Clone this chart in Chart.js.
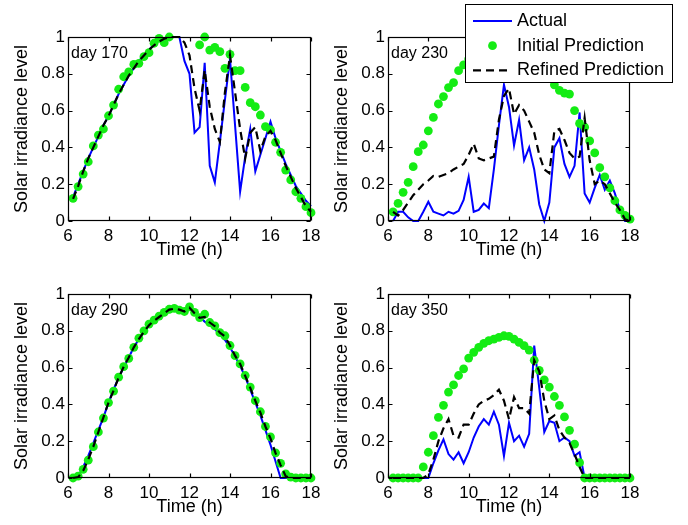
<!DOCTYPE html>
<html>
<head>
<meta charset="utf-8">
<title>Solar irradiance: actual vs predicted</title>
<script src="https://cdn.jsdelivr.net/npm/chart.js@4.4.1/dist/chart.umd.min.js"></script>
<style>
  html, body { margin: 0; padding: 0; background: #ffffff; }
  #fig { position: relative; width: 688px; height: 525px; overflow: hidden; background: #ffffff; }
  #fig canvas { position: absolute; }
</style>
</head>
<body>
<div id="fig">
  <canvas id="p170" width="344" height="262" style="left:0px;top:0px;"></canvas>
  <canvas id="p290" width="344" height="262" style="left:0px;top:257px;"></canvas>
  <canvas id="p350" width="368" height="262" style="left:320px;top:257px;"></canvas>
  <canvas id="p230" width="368" height="262" style="left:320px;top:0px;"></canvas>
</div>
<script>
// ---------------- data ----------------
const hours = [
  6.25, 6.5, 6.75, 7, 7.25, 7.5, 7.75, 8, 8.25, 8.5, 8.75, 9,
  9.25, 9.5, 9.75, 10, 10.25, 10.5, 10.75, 11, 11.25, 11.5, 11.75, 12,
  12.25, 12.5, 12.75, 13, 13.25, 13.5, 13.75, 14, 14.25, 14.5, 14.75, 15,
  15.25, 15.5, 15.75, 16, 16.25, 16.5, 16.75, 17, 17.25, 17.5, 17.75, 18
];
const xTickValues = [6, 8, 10, 12, 14, 16, 18];
const xTickLabels = ['6', '8', '10', '12', '14', '16', '18'];
const yTickValues = [0, 0.2, 0.4, 0.6, 0.8, 1];
const yTickLabels = ['0', '0.2', '0.4', '0.6', '0.8', '1'];
const seriesLabels = ['Actual', 'Initial Prediction', 'Refined Prediction'];
const xTitle = 'Time (h)';
const yTitle = 'Solar irradiance level';
const dayLabels = ['day 170', 'day 230', 'day 290', 'day 350'];

// day 170
const actual170 = [
  0.13, 0.20, 0.27, 0.34, 0.40, 0.46, 0.52, 0.57, 0.63, 0.69, 0.74, 0.79,
  0.83, 0.87, 0.90, 0.93, 0.96, 0.98, 0.99, 1.00, 1.00, 1.00, 0.87, 0.80,
  0.48, 0.51, 0.86, 0.30, 0.21, 0.43, 0.66, 0.88, 0.52, 0.16, 0.35, 0.50,
  0.27, 0.36, 0.45, 0.54, 0.45, 0.38, 0.31, 0.25, 0.19, 0.15, 0.11, 0.08
];
const initial170 = [
  0.123, 0.187, 0.255, 0.322, 0.408, 0.467, 0.50, 0.572, 0.63, 0.716, 0.784, 0.81,
  0.851, 0.857, 0.893, 0.915, 0.966, 0.993, 0.969, 1.00, 1.05, 1.08, 1.09, 1.08,
  1.05, 0.957, 1.00, 0.929, 0.944, 0.92, 0.83, 0.906, 0.817, 0.817, 0.726, 0.643,
  0.621, 0.576, 0.513, 0.495, 0.428, 0.373, 0.277, 0.223, 0.159, 0.123, 0.078, 0.045
];
const refined170 = [
  0.12, 0.19, 0.27, 0.34, 0.40, 0.46, 0.52, 0.57, 0.63, 0.69, 0.74, 0.79,
  0.83, 0.87, 0.90, 0.93, 0.955, 0.975, 0.99, 1.00, 1.00, 1.00, 0.97, 0.90,
  0.72, 0.60, 0.82, 0.62, 0.50, 0.43, 0.70, 0.90, 0.70, 0.50, 0.34, 0.48,
  0.51, 0.38, 0.46, 0.49, 0.44, 0.37, 0.30, 0.24, 0.18, 0.13, 0.08, 0.05
];

// day 230
const actual230 = [
  0.00, 0.05, 0.05, 0.02, 0.00, 0.00, 0.05, 0.105, 0.05, 0.04, 0.03, 0.05,
  0.04, 0.055, 0.115, 0.24, 0.05, 0.06, 0.095, 0.07, 0.28, 0.52, 0.74, 0.62,
  0.41, 0.55, 0.33, 0.40, 0.28, 0.09, 0.00, 0.10, 0.40, 0.45, 0.31, 0.24,
  0.30, 0.59, 0.15, 0.10, 0.18, 0.25, 0.17, 0.22, 0.15, 0.06, 0.00, 0.00
];
const initial230 = [
  0.05, 0.096, 0.156, 0.21, 0.295, 0.377, 0.413, 0.49, 0.563, 0.636, 0.676, 0.725,
  0.752, 0.817, 0.848, 0.88, 0.90, 0.92, 0.93, 0.94, 0.95, 0.95, 0.95, 0.94,
  0.93, 0.91, 0.89, 0.86, 0.84, 0.82, 0.81, 0.78, 0.74, 0.71, 0.695, 0.69,
  0.60, 0.53, 0.51, 0.435, 0.37, 0.29, 0.24, 0.18, 0.11, 0.06, 0.03, 0.01
];
const refined230 = [
  0.05, 0.03, 0.06, 0.10, 0.14, 0.17, 0.20, 0.22, 0.245, 0.24, 0.25, 0.26,
  0.28, 0.295, 0.31, 0.36, 0.42, 0.34, 0.33, 0.34, 0.35, 0.55, 0.68, 0.72,
  0.58, 0.63, 0.60, 0.54, 0.48, 0.36, 0.28, 0.26, 0.49, 0.50, 0.44, 0.37,
  0.34, 0.35, 0.56, 0.33, 0.20, 0.22, 0.20, 0.15, 0.10, 0.06, 0.01, 0.00
];

// day 290
const actual290 = [
  0.00, 0.01, 0.06, 0.12, 0.19, 0.26, 0.33, 0.41, 0.48, 0.545, 0.60, 0.655,
  0.71, 0.755, 0.795, 0.83, 0.855, 0.875, 0.895, 0.91, 0.915, 0.915, 0.91, 0.92,
  0.90, 0.875, 0.85, 0.83, 0.81, 0.78, 0.75, 0.71, 0.66, 0.61, 0.55, 0.48,
  0.41, 0.34, 0.26, 0.18, 0.09, 0.00, 0.00, 0.00, 0.00, 0.00, 0.00, 0.00
];
const initial290 = [
  0.00, 0.01, 0.047, 0.097, 0.17, 0.25, 0.326, 0.41, 0.472, 0.548, 0.605, 0.65,
  0.71, 0.76, 0.80, 0.836, 0.858, 0.88, 0.90, 0.917, 0.922, 0.912, 0.905, 0.93,
  0.90, 0.872, 0.89, 0.845, 0.827, 0.79, 0.773, 0.72, 0.665, 0.62, 0.557, 0.494,
  0.42, 0.36, 0.28, 0.223, 0.137, 0.08, 0.022, 0.005, 0.00, 0.00, 0.00, 0.00
];
const refined290 = [
  0.00, 0.005, 0.04, 0.10, 0.17, 0.25, 0.33, 0.41, 0.475, 0.545, 0.605, 0.655,
  0.71, 0.755, 0.795, 0.83, 0.855, 0.875, 0.895, 0.915, 0.92, 0.915, 0.905, 0.925,
  0.895, 0.87, 0.875, 0.845, 0.825, 0.79, 0.77, 0.72, 0.665, 0.62, 0.555, 0.49,
  0.42, 0.355, 0.28, 0.215, 0.135, 0.07, 0.01, 0.00, 0.00, 0.00, 0.00, 0.00
];

// day 350
const actual350 = [
  0.00, 0.00, 0.00, 0.00, 0.00, 0.00, 0.00, 0.00, 0.08, 0.15, 0.21, 0.13,
  0.10, 0.14, 0.08, 0.14, 0.22, 0.28, 0.32, 0.29, 0.36, 0.29, 0.12, 0.30,
  0.20, 0.23, 0.17, 0.24, 0.72, 0.49, 0.25, 0.31, 0.30, 0.20, 0.22, 0.20,
  0.12, 0.14, 0.00, 0.00, 0.00, 0.00, 0.00, 0.00, 0.00, 0.00, 0.00, 0.00
];
const initial350 = [
  0.00, 0.00, 0.00, 0.00, 0.00, 0.00, 0.06, 0.14, 0.23, 0.33, 0.395, 0.467,
  0.506, 0.557, 0.593, 0.652, 0.683, 0.71, 0.732, 0.746, 0.755, 0.764, 0.773, 0.77,
  0.755, 0.737, 0.719, 0.695, 0.64, 0.585, 0.533, 0.494, 0.443, 0.395, 0.332, 0.259,
  0.184, 0.083, 0.00, 0.00, 0.00, 0.00, 0.00, 0.00, 0.00, 0.00, 0.00, 0.00
];
const refined350 = [
  0.00, 0.00, 0.00, 0.00, 0.00, 0.00, 0.00, 0.02, 0.10, 0.20, 0.27, 0.32,
  0.23, 0.22, 0.29, 0.29, 0.35, 0.40, 0.42, 0.43, 0.45, 0.48, 0.42, 0.32,
  0.44, 0.38, 0.38, 0.35, 0.64, 0.58, 0.42, 0.32, 0.34, 0.26, 0.22, 0.19,
  0.13, 0.06, 0.00, 0.00, 0.00, 0.00, 0.00, 0.00, 0.00, 0.00, 0.00, 0.00
];

// ---------------- drawing ----------------
const FONT = "'Liberation Sans', Arial, Helvetica, sans-serif";
Chart.defaults.font.family = FONT;
Chart.defaults.color = '#000000';

function pairs(values) {
  return hours.map((h, i) => ({ x: h, y: values[i] }));
}

function drawLegend(chart, lg) {
  const ctx = chart.ctx;
  ctx.save();
  ctx.fillStyle = '#ffffff';
  ctx.fillRect(lg.x, lg.y, lg.w, lg.h);
  ctx.strokeStyle = '#000000';
  ctx.lineWidth = 1;
  ctx.strokeRect(lg.x + 0.5, lg.y + 0.5, lg.w - 1, lg.h - 1);
  ctx.font = lg.fontSize + 'px ' + FONT;
  ctx.textBaseline = 'middle';
  ctx.textAlign = 'left';
  chart.data.datasets.forEach((ds, i) => {
    const yy = lg.y + lg.firstRow + i * lg.rowGap;
    const x0 = lg.x + lg.sampleStart, x1 = lg.x + lg.sampleEnd;
    if (ds.showLine === false) {
      ctx.beginPath();
      ctx.fillStyle = ds.pointBackgroundColor;
      ctx.arc((x0 + x1) / 2, yy, ds.pointRadius, 0, Math.PI * 2);
      ctx.fill();
    } else {
      ctx.beginPath();
      ctx.strokeStyle = ds.borderColor;
      ctx.lineWidth = ds.borderWidth;
      ctx.setLineDash(ds.borderDash || []);
      ctx.moveTo(x0, yy);
      ctx.lineTo(x1, yy);
      ctx.stroke();
      ctx.setLineDash([]);
    }
    ctx.fillStyle = '#000000';
    ctx.fillText(ds.label, lg.x + lg.textStart, yy);
  });
  ctx.restore();
}

const framePlugin = {
  id: 'matlabFrame',
  afterDraw(chart, args, opts) {
    const ctx = chart.ctx;
    const a = chart.chartArea;
    const xs = chart.scales.x, ys = chart.scales.y;
    ctx.save();
    ctx.strokeStyle = '#000000';
    ctx.lineWidth = 1.2;
    const L = Math.round(a.left) + 0.5, R = Math.round(a.right) - 0.5;
    const T = Math.round(a.top) + 0.5, B = Math.round(a.bottom) - 0.5;
    ctx.strokeRect(L, T, R - L, B - T);
    ctx.beginPath();
    xs.ticks.forEach(t => {
      const p = Math.round(xs.getPixelForValue(t.value)) + 0.5;
      ctx.moveTo(p, B); ctx.lineTo(p, B - 4);
      ctx.moveTo(p, T); ctx.lineTo(p, T + 4);
    });
    ys.ticks.forEach(t => {
      const p = Math.round(ys.getPixelForValue(t.value)) + 0.5;
      ctx.moveTo(L, p); ctx.lineTo(L + 4, p);
      ctx.moveTo(R, p); ctx.lineTo(R - 4, p);
    });
    ctx.stroke();
    ctx.fillStyle = '#000000';
    ctx.font = '16px ' + FONT;
    ctx.textAlign = 'left';
    ctx.textBaseline = 'alphabetic';
    ctx.fillText(opts.day, a.left + 3, a.top + 21);
    ctx.restore();
    if (opts.legend) drawLegend(chart, opts.legend);
  }
};

function makePanel(id, day, actual, initial, refined, rightPad, legend) {
  return new Chart(document.getElementById(id), {
    type: 'line',
    data: {
      datasets: [
        { label: seriesLabels[0], data: pairs(actual), borderColor: '#0000ff', backgroundColor: '#0000ff',
          borderWidth: 2, pointRadius: 0, fill: false, tension: 0, order: 3, clip: 4 },
        { label: seriesLabels[1], data: pairs(initial), showLine: false, pointRadius: 4.4,
          pointBackgroundColor: '#14ec14', pointBorderColor: '#14ec14', pointBorderWidth: 0,
          backgroundColor: '#14ec14', borderColor: '#14ec14', order: 2, clip: 6 },
        { label: seriesLabels[2], data: pairs(refined), borderColor: '#000000', backgroundColor: '#000000',
          borderWidth: 2.2, borderDash: [8, 5], pointRadius: 0, fill: false, tension: 0, order: 1, clip: 4 }
      ]
    },
    options: {
      responsive: false,
      animation: false,
      devicePixelRatio: 1,
      events: [],
      layout: { padding: { top: 37, right: rightPad, bottom: 0, left: 0 } },
      plugins: {
        legend: { display: false },
        tooltip: { enabled: false },
        matlabFrame: { day: day, legend: legend || null }
      },
      scales: {
        x: {
          type: 'linear', min: 6, max: 18,
          afterBuildTicks: s => { s.ticks = xTickValues.map(v => ({ value: v })); },
          afterFit: s => { s.height = 41; },
          grid: { display: false, drawTicks: false },
          border: { display: false },
          ticks: { font: { size: 17 }, padding: 5, color: '#000000', maxRotation: 0, autoSkip: false,
                   callback: (v, i) => xTickLabels[i] },
          title: { display: true, text: xTitle, font: { size: 18 }, padding: { top: 0, bottom: 1 }, color: '#000000' }
        },
        y: {
          type: 'linear', min: 0, max: 1,
          afterBuildTicks: s => { s.ticks = yTickValues.map(v => ({ value: v })); },
          afterFit: s => { s.width = 68; },
          grid: { display: false, drawTicks: false },
          border: { display: false },
          ticks: { font: { size: 17 }, padding: 3, color: '#000000', autoSkip: false,
                   callback: (v, i) => yTickLabels[i] },
          title: { display: true, text: yTitle, font: { size: 18 }, padding: { top: 11, bottom: 0 }, color: '#000000' }
        }
      }
    },
    plugins: [framePlugin]
  });
}

makePanel('p170', dayLabels[0], actual170, initial170, refined170, 33);
makePanel('p290', dayLabels[2], actual290, initial290, refined290, 33);
makePanel('p350', dayLabels[3], actual350, initial350, refined350, 58);
makePanel('p230', dayLabels[1], actual230, initial230, refined230, 58,
  { x: 145, y: 4, w: 208, h: 79, firstRow: 17, rowGap: 24.7, sampleStart: 8, sampleEnd: 47, textStart: 52, fontSize: 18 });
</script>
</body>
</html>
